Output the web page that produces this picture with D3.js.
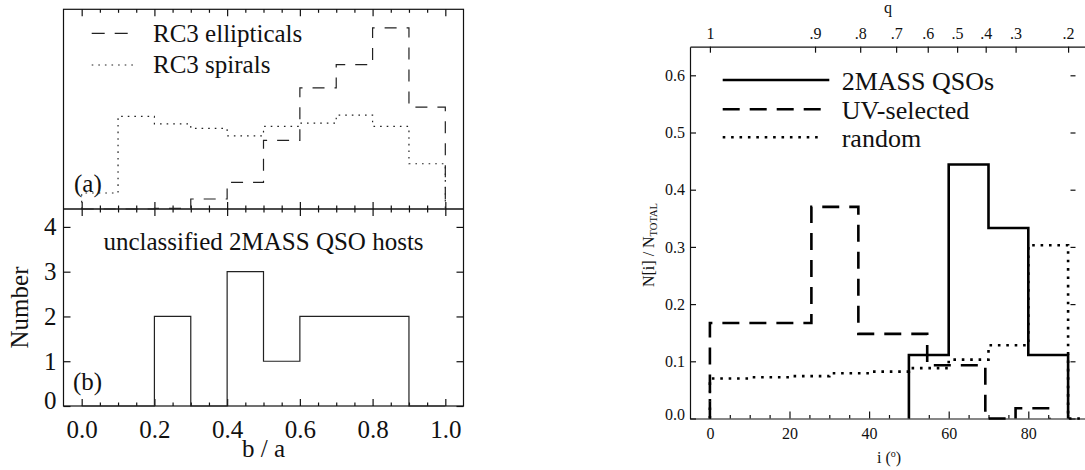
<!DOCTYPE html>
<html>
<head>
<meta charset="utf-8">
<script src="https://cdn.jsdelivr.net/npm/d3@7"></script>
<style>
  html, body { margin: 0; padding: 0; background: #fff; }
  svg { display: block; }
  svg text { font-family: "Liberation Serif", Tinos, "Times New Roman", Times, "DejaVu Serif", serif; }
</style>
</head>
<body>
<svg id="chart" width="1085" height="470"></svg>
<script>
// ---- axial-ratio histograms (left) ----
const baEdges = [0.0, 0.1, 0.2, 0.3, 0.4, 0.5, 0.6, 0.7, 0.8, 0.9, 1.0];
const rc3Ellipticals = [0, 0, 0.001, 0.015, 0.040, 0.103, 0.182, 0.217, 0.272, 0.153];
const rc3Spirals = [0.024, 0.139, 0.128, 0.121, 0.110, 0.124, 0.129, 0.141, 0.124, 0.068];
const qsoHostCounts = [0, 0, 2, 0, 3, 1, 2, 2, 2, 0];
const baTicks = [0.0, 0.2, 0.4, 0.6, 0.8, 1.0];
const countTicks = [0, 1, 2, 3, 4];

// ---- inclination histograms (right) ----
const qsoEdges = [50, 60, 70, 80, 90];
const qsoFrac = [0.111, 0.444, 0.333, 0.111];
const uvEdges = [0, 25.5, 37.3, 54.6, 69.2, 76.8, 85.4];
const uvFrac = [0.167, 0.370, 0.148, 0.093, 0, 0.018];
const randomEdges = [0, 10, 20, 30, 40, 50, 60, 70, 80, 90];
const randomFrac = [0.070, 0.072, 0.074, 0.079, 0.082, 0.088, 0.103, 0.128, 0.303];
const inclTicks = [0, 20, 40, 60, 80];
const fracTicks = [0.0, 0.1, 0.2, 0.3, 0.4, 0.5, 0.6];
const qTicks = [1, 0.9, 0.8, 0.7, 0.6, 0.5, 0.4, 0.3, 0.2];
const qTickLabels = ["1", ".9", ".8", ".7", ".6", ".5", ".4", ".3", ".2"];
const intrinsicQ = 0.2; // intrinsic thickness used for the q -> i conversion

const ink = "#111";
const serif = "Liberation Serif, Tinos, Times New Roman, Times, DejaVu Serif, serif";
const svg = d3.select("#chart").attr("font-family", serif);

// histogram outline as a step path that starts and ends on the baseline
function stepPoints(edges, vals) {
  const pts = [[edges[0], 0]];
  vals.forEach((v, i) => { pts.push([edges[i], v]); pts.push([edges[i + 1], v]); });
  pts.push([edges[edges.length - 1], 0]);
  return pts;
}

function styleAxis(g, fs) {
  g.attr("font-family", serif).attr("font-size", fs);
  g.selectAll("path, line").attr("stroke", ink).attr("stroke-width", 1.2);
  g.selectAll("text").attr("font-family", serif).attr("font-size", fs).attr("fill", ink);
  return g;
}

function label(g, x, y, str, size, anchor) {
  return g.append("text").attr("x", x).attr("y", y)
    .attr("font-family", serif).attr("font-size", size).attr("fill", ink)
    .attr("text-anchor", anchor || "start").text(str);
}

function minorTicks(lo, hi, step, majors) {
  return d3.range(lo, hi + step / 2, step)
    .map(v => +v.toFixed(6))
    .filter(v => !majors.some(m => Math.abs(m - v) < 1e-6));
}

// ================= LEFT PANEL =================
const xBA = d3.scaleLinear().domain([-0.05, 1.05]).range([63.5, 463.5]);
const yA = d3.scaleLinear().domain([0, 0.3]).range([209, 9.3]);
const yB = d3.scaleLinear().domain([0, 4.4]).range([406, 209]);
const baMinor = minorTicks(0, 1.0, 0.05, baTicks);

const left = svg.append("g");

// frame and divider
left.append("rect")
  .attr("x", xBA.range()[0]).attr("y", yA.range()[1])
  .attr("width", xBA.range()[1] - xBA.range()[0])
  .attr("height", yB.range()[0] - yA.range()[1])
  .attr("fill", "none").attr("stroke", ink).attr("stroke-width", 1.2);
left.append("line")
  .attr("x1", xBA.range()[0]).attr("x2", xBA.range()[1])
  .attr("y1", yB.range()[1]).attr("y2", yB.range()[1])
  .attr("stroke", ink).attr("stroke-width", 1.4);

function baTickRow(y, axisFn, size, vals) {
  left.append("g").attr("transform", `translate(0,${y})`)
    .call(axisFn(xBA).tickValues(vals).tickSize(size).tickFormat(""))
    .call(g => g.select(".domain").remove())
    .call(g => styleAxis(g, 0));
}
// panel (a) top and bottom ticks
baTickRow(yA.range()[1], d3.axisTop, -7, baTicks);
baTickRow(yA.range()[1], d3.axisTop, -3.5, baMinor);
baTickRow(yA.range()[0], d3.axisBottom, -7, baTicks);
baTickRow(yA.range()[0], d3.axisBottom, -3.5, baMinor);
// panel (b) top ticks
baTickRow(yB.range()[1], d3.axisTop, -7, baTicks);
baTickRow(yB.range()[1], d3.axisTop, -3.5, baMinor);
// panel (b) bottom axis with labels
left.append("g").attr("transform", `translate(0,${yB.range()[0]})`)
  .call(d3.axisBottom(xBA).tickValues(baTicks).tickSize(-7).tickPadding(14).tickFormat(d3.format(".1f")))
  .call(g => g.select(".domain").remove())
  .call(g => styleAxis(g, 25));
baTickRow(yB.range()[0], d3.axisBottom, -3.5, baMinor);
// panel (b) left / right axes
left.append("g").attr("transform", `translate(${xBA.range()[0]},0)`)
  .call(d3.axisLeft(yB).tickValues(countTicks).tickSize(-7).tickPadding(7).tickFormat(d3.format("d")))
  .call(g => g.select(".domain").remove())
  .call(g => styleAxis(g, 25))
  .call(g => g.selectAll(".tick text").filter(d => d === 0).attr("dy", "0.1em"));
left.append("g").attr("transform", `translate(${xBA.range()[1]},0)`)
  .call(d3.axisRight(yB).tickValues(countTicks).tickSize(-7).tickFormat(""))
  .call(g => g.select(".domain").remove())
  .call(g => styleAxis(g, 0));

// histograms
const lineA = d3.line().x(d => xBA(d[0])).y(d => yA(d[1]));
const lineB = d3.line().x(d => xBA(d[0])).y(d => yB(d[1]));
left.append("path").attr("d", lineA(stepPoints(baEdges, rc3Spirals)))
  .attr("fill", "none").attr("stroke", "#222").attr("stroke-width", 1.2)
  .attr("stroke-dasharray", "1.6,5");
left.append("path").attr("d", lineA(stepPoints(baEdges, rc3Ellipticals)))
  .attr("fill", "none").attr("stroke", "#222").attr("stroke-width", 1.2)
  .attr("stroke-dasharray", "12,10");
left.append("path").attr("d", lineB(stepPoints(baEdges, qsoHostCounts)))
  .attr("fill", "none").attr("stroke", "#222").attr("stroke-width", 1.2);

// legend for panel (a)
left.append("line").attr("x1", 91.7).attr("x2", 129).attr("y1", 33.3).attr("y2", 33.3)
  .attr("stroke", "#222").attr("stroke-width", 1.2).attr("stroke-dasharray", "13,10");
left.append("line").attr("x1", 91.7).attr("x2", 136).attr("y1", 65).attr("y2", 65)
  .attr("stroke", "#222").attr("stroke-width", 1.2).attr("stroke-dasharray", "1.6,5");
label(left, 153, 41.7, "RC3 ellipticals", 25);
label(left, 153, 73.3, "RC3 spirals", 25);
label(left, 74, 191.7, "(a)", 25);
label(left, 73, 390, "(b)", 25);
label(left, 263.5, 250, "unclassified 2MASS QSO hosts", 25, "middle");
label(left, 0, 0, "Number", 25, "middle").attr("transform", "translate(28.3,307.5) rotate(-90)");
label(left, 263.5, 456.7, "b / a", 25, "middle");

// ================= RIGHT PANEL =================
const xI = d3.scaleLinear().domain([-5, 95]).range([690, 1088]);
const yF = d3.scaleLinear().domain([0, 0.65]).range([418.5, 46.7]);
const inclFromQ = q => Math.acos(Math.sqrt(Math.max(0, (q * q - intrinsicQ * intrinsicQ) / (1 - intrinsicQ * intrinsicQ)))) * 180 / Math.PI;
const right = svg.append("g");

// bottom axis
right.append("g").attr("transform", `translate(0,${yF.range()[0]})`)
  .call(d3.axisBottom(xI).tickValues(inclTicks).tickSize(-7).tickSizeOuter(0).tickPadding(9).tickFormat(d3.format("d")))
  .call(g => styleAxis(g, 16));
right.append("g").attr("transform", `translate(0,${yF.range()[0]})`)
  .call(d3.axisBottom(xI).tickValues(minorTicks(0, 90, 5, inclTicks)).tickSize(-3.5).tickFormat(""))
  .call(g => g.select(".domain").remove())
  .call(g => styleAxis(g, 0));
// top axis in q
right.append("g").attr("transform", `translate(0,${yF.range()[1]})`)
  .call(d3.axisTop(xI).tickValues(qTicks.map(inclFromQ)).tickSize(-6).tickSizeOuter(0).tickPadding(8)
    .tickFormat((d, i) => qTickLabels[i]))
  .call(g => styleAxis(g, 16));
// left axis
right.append("g").attr("transform", `translate(${xI.range()[0]},0)`)
  .call(d3.axisLeft(yF).tickValues(fracTicks).tickSize(-6).tickSizeOuter(0).tickPadding(5).tickFormat(d3.format(".1f")))
  .call(g => styleAxis(g, 16))
  .call(g => g.selectAll(".tick text").filter(d => d === 0).attr("dy", "0.05em"));
// right-hand ticks
right.append("g").attr("transform", `translate(1075.5,0)`)
  .call(d3.axisRight(yF).tickValues(fracTicks).tickSize(-5).tickFormat(""))
  .call(g => g.select(".domain").remove())
  .call(g => styleAxis(g, 0));

// histograms
const lineI = d3.line().x(d => xI(d[0])).y(d => yF(d[1]));
const randomPts = stepPoints(randomEdges, randomFrac);
randomPts.push([xI.domain()[1], 0]);
right.append("path").attr("d", lineI(randomPts))
  .attr("fill", "none").attr("stroke", "#000").attr("stroke-width", 2.6)
  .attr("stroke-dasharray", "2.6,5.8");
right.append("path").attr("d", lineI(stepPoints(uvEdges, uvFrac)))
  .attr("fill", "none").attr("stroke", "#000").attr("stroke-width", 2.6)
  .attr("stroke-dasharray", "17,10");
right.append("path").attr("d", lineI(stepPoints(qsoEdges, qsoFrac)))
  .attr("fill", "none").attr("stroke", "#000").attr("stroke-width", 2.6);

// legend
const legendRows = [
  { label: "2MASS QSOs", dash: null, y: 80, x2: 829.3 },
  { label: "UV-selected", dash: "17,10", y: 109.3, x2: 821 },
  { label: "random", dash: "2.6,5.8", y: 137.3, x2: 823 }
];
legendRows.forEach(r => {
  right.append("line").attr("x1", 722.7).attr("x2", r.x2).attr("y1", r.y).attr("y2", r.y)
    .attr("stroke", "#000").attr("stroke-width", 2.6).attr("stroke-dasharray", r.dash);
  label(right, 841.7, r.y + 9.8, r.label, 26);
});

// axis titles
label(right, 888, 13.3, "q", 16, "middle");
const xt = label(right, 889, 463, "", 16, "middle");
xt.append("tspan").text("i (");
xt.append("tspan").attr("font-size", 10).attr("dy", -6).text("o");
xt.append("tspan").attr("dy", 6).text(")");
const yt = label(right, 0, 0, "", 16, "middle").attr("transform", "translate(654,245) rotate(-90)");
yt.append("tspan").text("N[i] / N");
yt.append("tspan").attr("font-size", 10.5).attr("dy", 3).text("TOTAL");
</script>
</body>
</html>
